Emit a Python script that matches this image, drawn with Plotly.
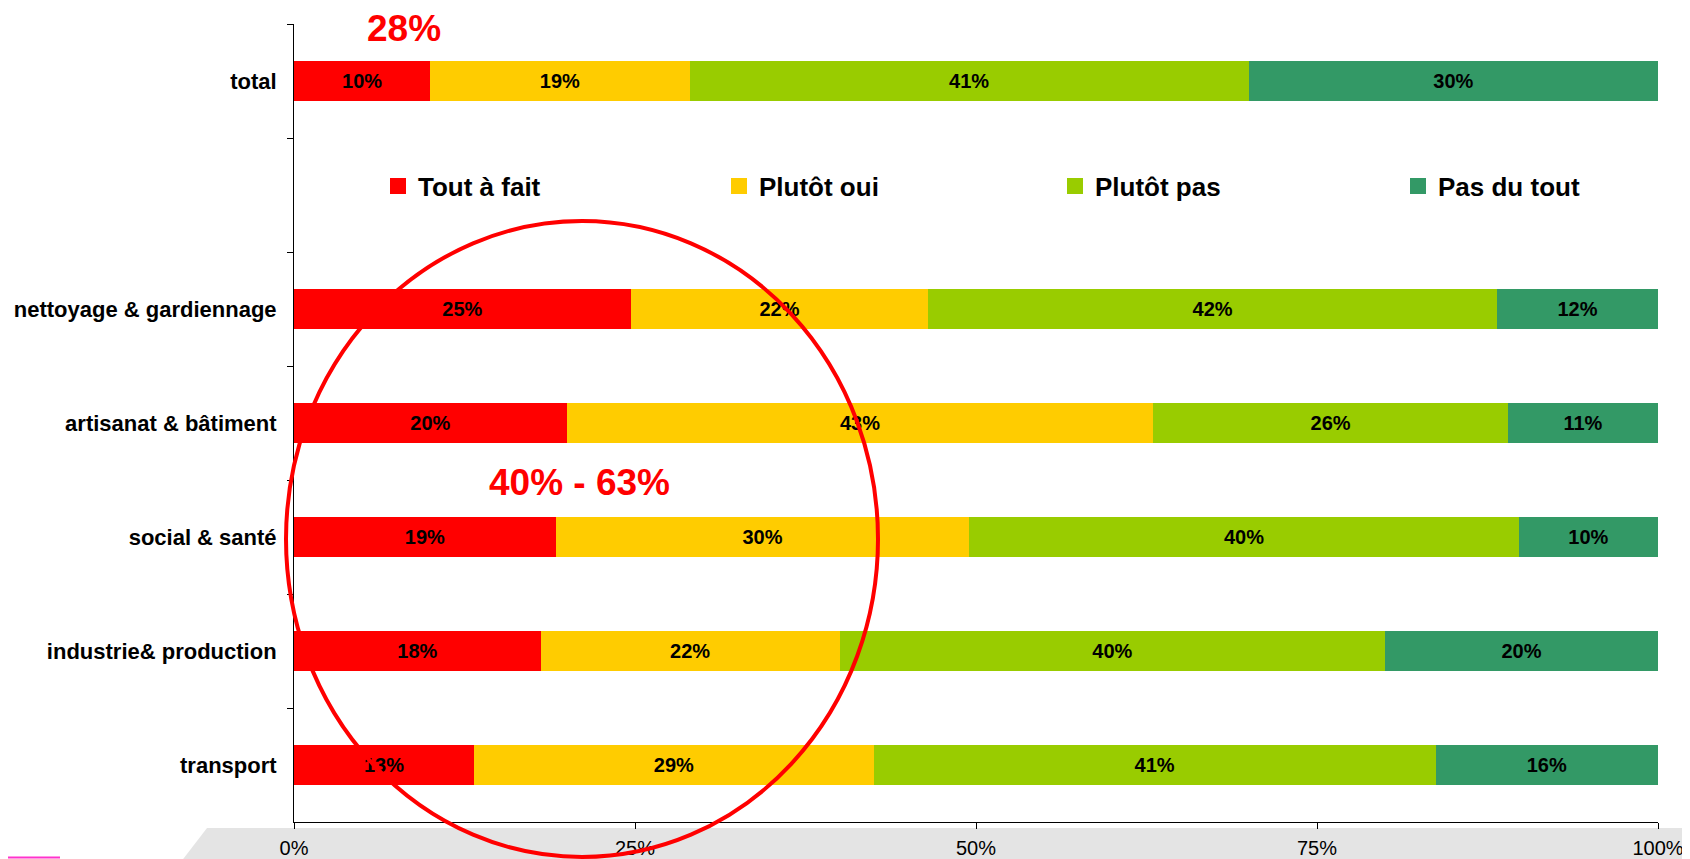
import plotly.graph_objects as go

categories = ["total", " ", "nettoyage & gardiennage", "artisanat & bâtiment",
              "social & santé", "industrie& production", "transport"]
bar_categories = ["total", "nettoyage & gardiennage", "artisanat & bâtiment",
                  "social & santé", "industrie& production", "transport"]

series_names = ["Tout à fait", "Plutôt oui", "Plutôt pas", "Pas du tout"]
tout_a_fait = [10, 24.7, 20, 19.2, 18.1, 13.2]
plutot_oui = [19, 21.8, 43, 30.3, 21.9, 29.3]
plutot_pas = [41, 41.7, 26, 40.3, 40, 41.2]
pas_du_tout = [30, 11.8, 11, 10.2, 20, 16.3]
series_values = [tout_a_fait, plutot_oui, plutot_pas, pas_du_tout]
colors = ["#FF0000", "#FFCC00", "#99CC00", "#339966"]

x_ticks = [0, 25, 50, 75, 100]
x_tick_labels = ["0%", "25%", "50%", "75%", "100%"]

FONT = "Liberation Sans, Arial, sans-serif"

W, H = 1690, 859
OFF = 8  # page body margin: figure starts 8px right/down in the window

# plot area in window pixels
PL, PR, PT, PB = 294, 1658, 24, 822
ML, MR, MT, MB = PL - OFF, W - (PR - OFF), PT - OFF, H - (PB - OFF)
PW = W - ML - MR
PH = H - MT - MB


def px(sx):
    """window x pixel -> paper x"""
    return (sx - OFF - ML) / PW


def py(sy):
    """window y pixel -> paper y"""
    return (H - MB - (sy - OFF)) / PH


fig = go.Figure()
for name, vals, col in zip(series_names, series_values, colors):
    fig.add_trace(go.Bar(
        y=bar_categories, x=vals, name=name, orientation="h",
        marker=dict(color=col, line=dict(width=0)),
        width=0.345,
        text=vals, texttemplate="%{x:.0f}%",
        textposition="inside", insidetextanchor="middle",
        constraintext="none", textangle=0,
        textfont=dict(family=FONT, size=20, color="black", weight="bold"),
        hoverinfo="skip", showlegend=False,
    ))

# legend entries (one legend per entry, placed like the original)
legend_marker_x = [398, 739, 1075, 1418]
legend_ids = ["legend", "legend2", "legend3", "legend4"]
legend_layout = {}
for name, col, lid, mx in zip(series_names, colors, legend_ids, legend_marker_x):
    fig.add_trace(go.Scatter(
        x=[None], y=[None], mode="markers", name=name, legend=lid,
        marker=dict(symbol="square", size=16, color=col),
        showlegend=True, hoverinfo="skip",
    ))
    legend_layout[lid] = dict(
        orientation="h",
        xref="container", yref="container",
        x=(mx - OFF - 20) / W, xanchor="left",
        y=1 - (186 - OFF) / H, yanchor="middle",
        font=dict(family=FONT, size=26, color="black", weight="bold"),
        bgcolor="rgba(0,0,0,0)", borderwidth=0,
        itemclick=False, itemdoubleclick=False,
    )

fig.update_layout(
    width=W, height=H,
    margin=dict(l=ML, r=MR, t=MT, b=MB, autoexpand=False),
    barmode="stack",
    paper_bgcolor="white", plot_bgcolor="white",
    font=dict(family=FONT, color="black"),
    showlegend=True,
    xaxis=dict(
        range=[0, 100], tickvals=x_ticks, ticktext=x_tick_labels,
        showgrid=False, zeroline=False,
        showline=True, linecolor="black", linewidth=1,
        ticks="outside", ticklen=6, tickcolor="black", tickwidth=1,
        tickfont=dict(family=FONT, size=20, color="black"),
        ticklabelstandoff=2,
    ),
    yaxis=dict(
        type="category", categoryorder="array", categoryarray=categories,
        range=[6.5, -0.5],
        showgrid=False, zeroline=False,
        showline=True, linecolor="black", linewidth=1,
        ticks="outside", ticklen=6, tickcolor="black", tickwidth=1,
        tickson="boundaries",
        tickfont=dict(family=FONT, size=22, color="black", weight="bold"),
        ticklabelstandoff=12,
    ),
    **legend_layout,
)

# grey floor band under the x axis
fig.add_shape(type="path", xref="paper", yref="paper", layer="below",
              path=(f"M {px(207)} {py(828)} L {px(W + OFF)} {py(828)} "
                    f"L {px(W + OFF)} {py(H + OFF)} L {px(177)} {py(H + OFF)} Z"),
              fillcolor="#E4E4E4", line=dict(width=0))

# small magenta artefact bottom-left
fig.add_shape(type="line", xref="paper", yref="paper",
              x0=px(OFF), x1=px(60), y0=py(857.5), y1=py(857.5),
              line=dict(color="#FF33CC", width=2))

# red ellipse
fig.add_shape(type="circle", xref="paper", yref="paper", layer="above",
              x0=px(286), x1=px(878), y0=py(857), y1=py(221),
              line=dict(color="#FF0000", width=4), fillcolor="rgba(0,0,0,0)")

fig.add_annotation(text="28%", xref="paper", yref="paper",
                   x=px(404), y=py(29),
                   showarrow=False, xanchor="center", yanchor="middle",
                   font=dict(family=FONT, size=37, color="#FF0000", weight="bold"))
fig.add_annotation(text="40% - 63%", xref="paper", yref="paper",
                   x=px(579), y=py(482),
                   showarrow=False, xanchor="center", yanchor="middle",
                   font=dict(family=FONT, size=37, color="#FF0000", weight="bold"))

fig.write_html("out.html")
